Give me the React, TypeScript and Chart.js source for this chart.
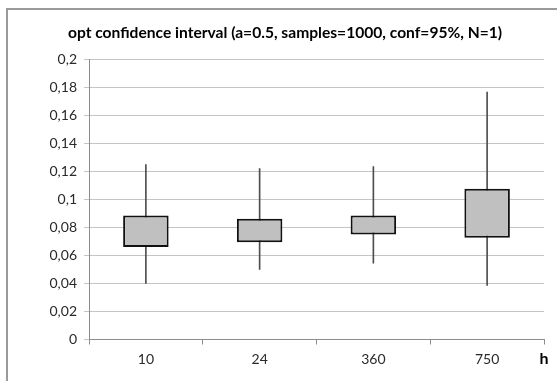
import React, { useEffect, useRef } from "react";
import { Chart, registerables } from "chart.js";

Chart.register(...registerables);

const categories = ["10", "24", "360", "750"];
const whiskerLow = [0.04, 0.05, 0.0545, 0.0386];
const boxLow = [0.066, 0.0695, 0.075, 0.0726];
const boxHigh = [0.0886, 0.0862, 0.0886, 0.1076];
const whiskerHigh = [0.125, 0.122, 0.1236, 0.1767];
const titleText = "opt confidence interval (a=0.5, samples=1000, conf=95%, N=1)";
const xUnit = "h";

const FONT = "Lato, 'Open Sans', sans-serif";

const overlayPlugin = {
  id: "overlay",
  afterDraw(chart: any) {
    const ctx = chart.ctx;
    ctx.save();
    ctx.fillStyle = "#000";
    ctx.font = `bold 15.6px ${FONT}`;
    ctx.textAlign = "center";
    ctx.textBaseline = "middle";
    ctx.fillText(titleText, 285, 33);
    const xs = chart.scales.x;
    ctx.font = `bold 16px ${FONT}`;
    ctx.textAlign = "center";
    ctx.fillText(xUnit, xs.right, 359);
    ctx.restore();
  },
};

export default function App() {
  const ref = useRef<HTMLCanvasElement | null>(null);
  useEffect(() => {
    if (!ref.current) return;
    const chart = new Chart(ref.current, {
      type: "bar",
      data: {
        labels: categories,
        datasets: [
          {
            data: categories.map((_, i) => [whiskerLow[i], whiskerHigh[i]]),
            backgroundColor: "#4f4f4f",
            borderWidth: 0,
            barThickness: 1,
            grouped: false,
            order: 2,
          } as any,
          {
            data: categories.map((_, i) => [boxLow[i], boxHigh[i]]),
            backgroundColor: "#c0c0c0",
            borderColor: "#111",
            borderWidth: 2,
            borderSkipped: false,
            barPercentage: 0.4,
            categoryPercentage: 1,
            grouped: false,
            order: 1,
          } as any,
        ],
      },
      options: {
        responsive: false,
        animation: false,
        layout: { padding: { left: 0, top: 59.5, right: 13, bottom: 0 } },
        plugins: { legend: { display: false }, tooltip: { enabled: false }, title: { display: false } },
        scales: {
          x: {
            offset: true,
            grid: { display: true, drawOnChartArea: false, offset: true, color: "#8c8c8c", tickLength: 5 },
            border: { color: "#8c8c8c" },
            ticks: { color: "#2a2a2a", font: { family: FONT, size: 14 }, padding: 7 },
            afterFit(s: any) { s.height = 381 - 339.5; },
          },
          y: {
            min: 0,
            max: 0.2,
            grid: { color: "#c4c4c4", tickLength: 5 },
            border: { color: "#8c8c8c" },
            ticks: {
              stepSize: 0.02,
              color: "#2a2a2a",
              font: { family: FONT, size: 14 },
              padding: 7,
              callback: (v: any) => String(Number(Number(v).toFixed(2))).replace(".", ","),
            },
            afterFit(s: any) { s.width = 89; },
          },
        },
      },
      plugins: [overlayPlugin],
    });
    return () => chart.destroy();
  }, []);
  return (
    <div style={{ position: "fixed", left: 0, top: 0, width: 557, height: 381, background: "#fff", overflow: "hidden" }}>
      <div style={{ position: "absolute", left: 6, top: 8, width: 700, height: 500, border: "2px solid #9a9a9a" }} />
      <canvas ref={ref} width={557} height={381} style={{ position: "absolute", left: 0, top: 0 }} />
    </div>
  );
}
